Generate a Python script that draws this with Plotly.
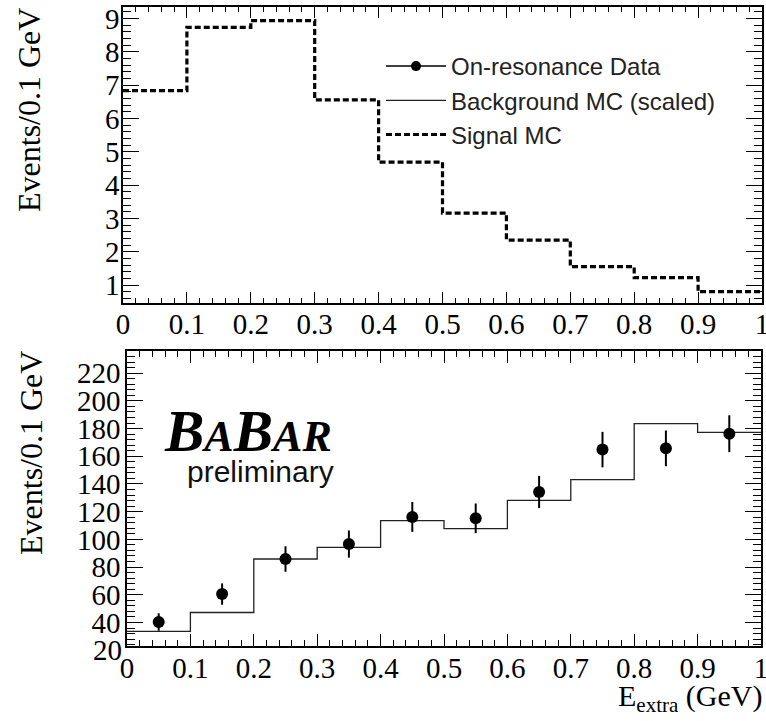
import plotly.graph_objects as go

# ---- data ----
bin_edges = [0.0, 0.1, 0.2, 0.3, 0.4, 0.5, 0.6, 0.7, 0.8, 0.9, 1.0]
bin_centers = [0.05, 0.15, 0.25, 0.35, 0.45, 0.55, 0.65, 0.75, 0.85, 0.95]
signal_mc = [6.84, 8.74, 8.94, 6.56, 4.69, 3.16, 2.35, 1.55, 1.22, 0.80]
background_mc = [33.5, 47.2, 85.8, 94.2, 113.5, 107.7, 128.2, 143.1, 183.6, 177.3]
data_vals = [40.3, 60.5, 85.8, 96.6, 116.2, 115.2, 134.2, 164.8, 165.7, 176.3]
data_err = [6.3, 7.7, 9.2, 9.8, 10.8, 10.7, 11.6, 12.8, 12.9, 13.3]
x_ticks = [0, 0.1, 0.2, 0.3, 0.4, 0.5, 0.6, 0.7, 0.8, 0.9, 1]
x_tick_text = ["0", "0.1", "0.2", "0.3", "0.4", "0.5", "0.6", "0.7", "0.8", "0.9", "1"]
top_y_ticks = [1, 2, 3, 4, 5, 6, 7, 8, 9]
bot_y_ticks = [40, 60, 80, 100, 120, 140, 160, 180, 200, 220]

W, H = 766, 721
SERIF = "Liberation Serif"
SANS = "Liberation Sans"

def px_x(p):
    return p / W

def px_y(p):
    return 1 - p / H

fig = go.Figure()

# legend-only entry for data (marker with line through it)
fig.add_trace(go.Scatter(
    x=[None], y=[None], mode="lines+markers", name="On-resonance Data",
    line=dict(color="black", width=1.5), marker=dict(color="black", size=10),
    xaxis="x2", yaxis="y2", legendgroup="a"))

fig.add_trace(go.Scatter(
    x=bin_edges, y=background_mc + [background_mc[-1]], mode="lines",
    line=dict(color="#222", width=1.3, shape="hv"),
    name="Background MC (scaled)", xaxis="x2", yaxis="y2", legendgroup="b"))

fig.add_trace(go.Scatter(
    x=bin_edges, y=signal_mc + [signal_mc[-1]], mode="lines",
    line=dict(color="black", width=3.2, shape="hv", dash="6px,3px"),
    name="Signal MC", xaxis="x", yaxis="y", legendgroup="c"))

fig.add_trace(go.Scatter(
    x=bin_centers, y=data_vals, mode="markers",
    marker=dict(color="black", size=12),
    error_y=dict(type="data", array=data_err, color="black", thickness=2, width=0),
    showlegend=False, xaxis="x2", yaxis="y2"))

axis_common = dict(
    showline=True, linecolor="black", linewidth=1.6, mirror="allticks",
    ticks="inside", tickcolor="black", showgrid=False, zeroline=False,
    automargin=False, ticklabeloverflow="allow",
    tickfont=dict(family=SERIF, size=29, color="black"),
)

fig.update_layout(
    template="none",
    width=W, height=H, autosize=False,
    margin=dict(l=0, r=0, t=0, b=0, pad=0),
    paper_bgcolor="white", plot_bgcolor="white",
    xaxis=dict(domain=[px_x(123), px_x(762)], range=[0, 1], anchor="y",
               tickvals=x_ticks, ticktext=x_tick_text, ticklen=11, tickwidth=1.3,
               ticklabelstandoff=-6,
               minor=dict(dtick=0.02, ticklen=5, ticks="inside", tickcolor="black", tickwidth=1),
               **axis_common),
    yaxis=dict(domain=[px_y(303), px_y(7)], range=[0.46, 9.35], anchor="x",
               tickvals=top_y_ticks, ticklen=16, tickwidth=1.3,
               ticklabelstandoff=-4,
               minor=dict(dtick=0.2, ticklen=8, ticks="inside", tickcolor="black", tickwidth=1),
               **axis_common),
    xaxis2=dict(domain=[px_x(127), px_x(761)], range=[0, 1], anchor="y2",
                tickvals=x_ticks, ticktext=x_tick_text, ticklen=12, tickwidth=1.3,
                ticklabelstandoff=-5,
                minor=dict(dtick=0.02, ticklen=6, ticks="inside", tickcolor="black", tickwidth=1),
                **axis_common),
    yaxis2=dict(domain=[px_y(646), px_y(351)], range=[23, 236], anchor="x2",
                tickvals=bot_y_ticks, ticklen=16, tickwidth=1.3,
                ticklabelstandoff=-1,
                minor=dict(dtick=4, ticklen=8, ticks="inside", tickcolor="black", tickwidth=1),
                **axis_common),
    legend=dict(x=px_x(381), y=px_y(44), xanchor="left", yanchor="top",
                bgcolor="rgba(0,0,0,0)", traceorder="grouped", tracegroupgap=0,
                itemwidth=60,
                font=dict(family=SANS, size=24, color="#222")),
    showlegend=True,
)

annotations = [
    dict(text="Events/0.1 GeV", textangle=-90, xref="paper", yref="paper",
         x=px_x(29), y=px_y(6), xanchor="center", yanchor="top", showarrow=False,
         font=dict(family=SERIF, size=32, color="black")),
    dict(text="Events/0.1 GeV", textangle=-90, xref="paper", yref="paper",
         x=px_x(31), y=px_y(349), xanchor="center", yanchor="top", showarrow=False,
         font=dict(family=SERIF, size=32, color="black")),
    dict(text="E<sub>extra</sub> (GeV)", xref="paper", yref="paper",
         x=px_x(764), y=px_y(698), xanchor="right", yanchor="middle", showarrow=False,
         font=dict(family=SERIF, size=30, color="black")),
    dict(text="20", xref="paper", yref="paper", x=px_x(124), y=px_y(650),
         xanchor="right", yanchor="middle", showarrow=False,
         font=dict(family=SERIF, size=29, color="black")),
    dict(text="<b><i>B<span style='font-size:44px'>A</span>B<span style='font-size:44px'>AR</span></i></b>",
         xref="paper", yref="paper", x=px_x(162), y=px_y(431),
         xanchor="left", yanchor="middle", showarrow=False,
         font=dict(family=SERIF, size=59, color="black")),
    dict(text="preliminary", xref="paper", yref="paper", x=px_x(185), y=px_y(471),
         xanchor="left", yanchor="middle", showarrow=False,
         font=dict(family=SANS, size=30, color="#111")),
]
fig.update_layout(annotations=annotations)

fig.write_html("out.html", config={"displayModeBar": False},
               post_script="document.body.style.margin='0px';document.body.style.overflow='hidden';")
